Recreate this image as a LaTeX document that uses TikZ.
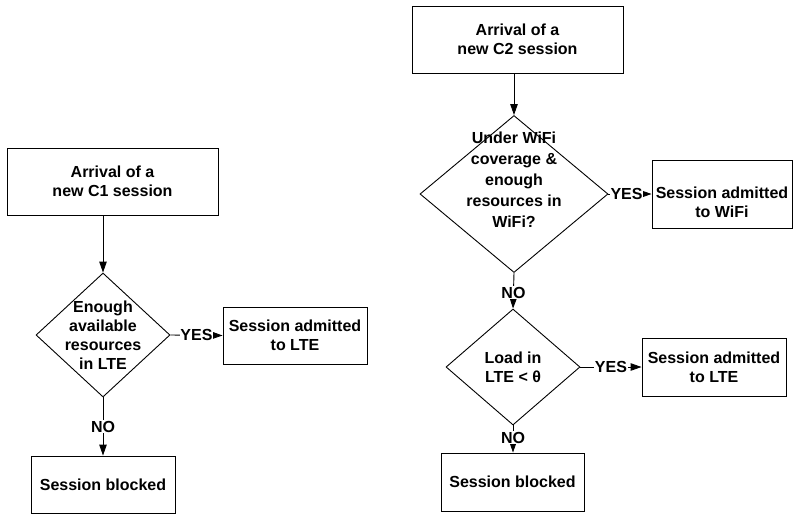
\documentclass[tikz,border=0pt]{standalone}
\usepackage{fontspec}
\setmainfont{Liberation Sans}
\usetikzlibrary{shapes.geometric,arrows.meta}
\begin{document}
\begin{tikzpicture}[x=1pt,y=-1pt,
  every node/.style={font=\fontsize{16}{19}\selectfont\bfseries},
  box/.style={draw,line width=0.9pt,inner sep=0pt,align=center},
  dia/.style={draw,diamond,line width=0.9pt,inner sep=0pt},
  txt/.style={align=center,inner sep=0pt},
  lbl/.style={fill=white,inner sep=0.5pt},
  conn/.style={line width=0.9pt,-{Triangle[length=11pt,width=7.5pt]}}]
\path[use as bounding box] (0,0) rectangle (793,515);
% left flow
\node[box,minimum width=211,minimum height=67] (c1) at (112.5,181.5) {Arrival of a\\new C1 session};
\node[dia,minimum width=134,minimum height=124] (d0) at (103,335) {};
\node[txt] (d0t) at (103,335) {Enough\\available\\resources\\in LTE};
\node[box,minimum width=144,minimum height=57] (l1) at (295,335.5) {Session admitted\\to LTE};
\node[box,minimum width=144,minimum height=57] (b1) at (103,484.5) {Session blocked};
\draw[conn] (d0.north |- c1.south) -- (d0.north);
\draw[conn] (d0.east) -- node[lbl,pos=0.5] {YES} (l1.west);
\draw[conn] (d0.south) -- node[lbl,pos=0.5] {NO} (b1.north);
% right flow
\node[box,minimum width=211,minimum height=67] (c2) at (517.5,39.5) {Arrival of a\\new C2 session};
\node[dia,minimum width=188,minimum height=157] (d1) at (514,194) {};
\node[txt,font=\fontsize{16}{21}\selectfont\bfseries] (d1t) at (514,180) {Under WiFi\\coverage \&\\enough\\resources in\\WiFi?};
\node[box,minimum width=140,minimum height=68] (w) at (722,194) {};
\node[txt] (wt) at (722,202) {Session admitted\\to WiFi};
\node[dia,minimum width=134,minimum height=116] (d2) at (513,367) {};
\node[txt] (d2t) at (513,367) {Load in\\LTE < θ};
\node[box,minimum width=144,minimum height=58] (l2) at (714,367) {Session admitted\\to LTE};
\node[box,minimum width=143,minimum height=58] (b2) at (512.5,482) {Session blocked};
\draw[conn] (d1.north |- c2.south) -- (d1.north);
\draw[conn] (d1.east) -- node[lbl,pos=0.42] {YES} (w.west);
\draw[conn] (d1.south) -- node[lbl,pos=0.55] {NO} (d2.north);
\draw[conn] (d2.east) -- node[lbl,pos=0.5] {YES} (l2.west);
\draw[conn] (d2.south) -- node[lbl,pos=0.45] {NO} (d2.south |- b2.north);
\end{tikzpicture}
\end{document}
